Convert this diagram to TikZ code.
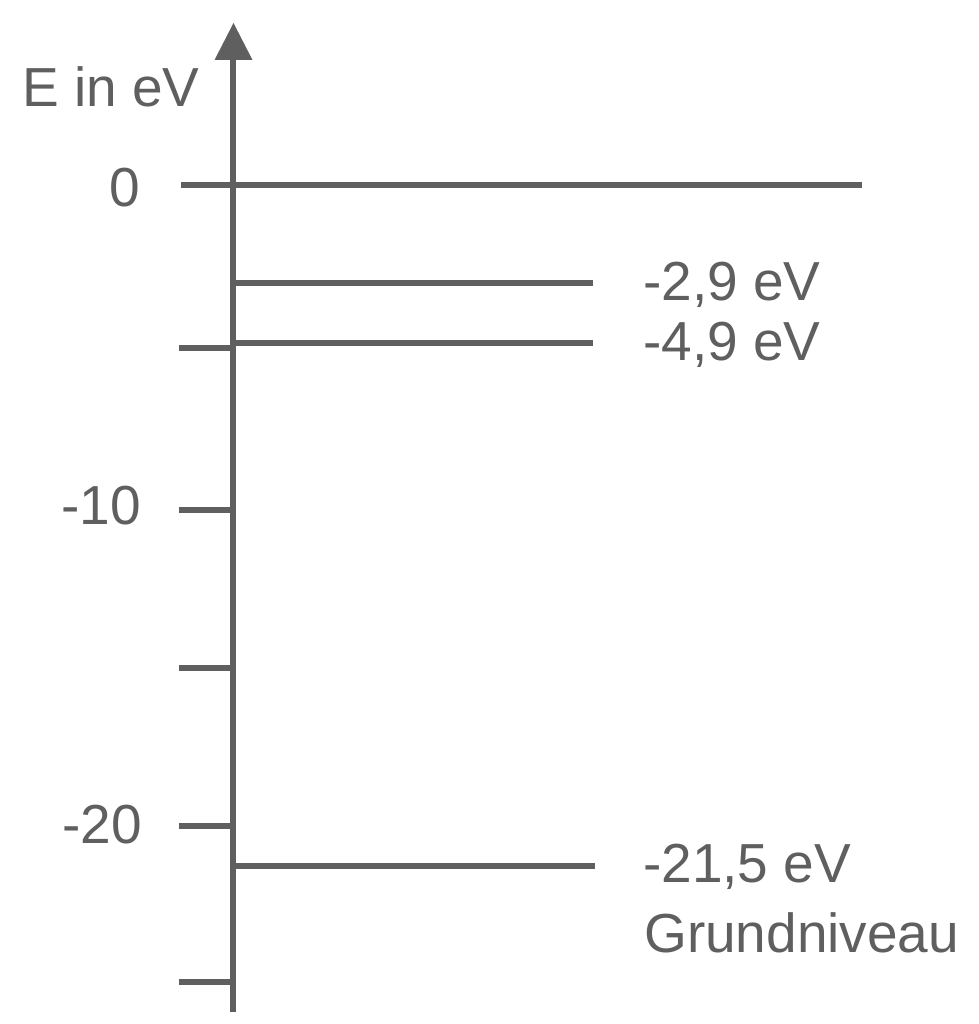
\documentclass[tikz,border=0pt]{standalone}
\usepackage{fontspec}
\setmainfont{Liberation Sans}
\usetikzlibrary{arrows.meta}
\definecolor{ink}{HTML}{5F5F5F}
\tikzset{
  lvl/.style={draw=ink, line width=6pt},
  lbl/.style={text=ink, inner sep=0pt, font=\fontsize{55}{62}\selectfont},
}
\begin{document}
\begin{tikzpicture}[x=1pt,y=-1pt]
\useasboundingbox (0,0) rectangle (978,1024);
% axis
\coordinate (ab) at (233,1012);
\coordinate (at) at (233,58);
\draw[lvl] (ab) -- (at);
\fill[ink] (214.5,60) -- (252.5,60) -- (233.5,23) -- cycle;
% zero level
\coordinate (z0) at (181,185);
\coordinate (z1) at (862,185);
\draw[lvl] (z0) -- (z1);
% ticks
\foreach \yy in {348,510,668,826,982}{
  \draw[lvl] (179,\yy) -- (233,\yy);
}
% levels
\draw[lvl] (233,283) -- (593,283);
\draw[lvl] (233,343) -- (593,343);
\draw[lvl] (233,866) -- (595,866);
% labels
\node[lbl, anchor=base west] (ylab) at (22,107) {E in eV};
\node[lbl, anchor=base east] (t0) at (140,207) {0};
\node[lbl, anchor=base east] (t10) at (141,524) {-10};
\node[lbl, anchor=base east] (t20) at (142,843) {-20};
\node[lbl, anchor=base west] (l1) at (643,300) {-2,9 eV};
\node[lbl, anchor=base west] (l2) at (643,360) {-4,9 eV};
\node[lbl, anchor=base west] (l3) at (643,882) {-21,5 eV};
\node[lbl, anchor=base west] (l4) at (644,952) {Grundniveau};
\end{tikzpicture}
\end{document}
